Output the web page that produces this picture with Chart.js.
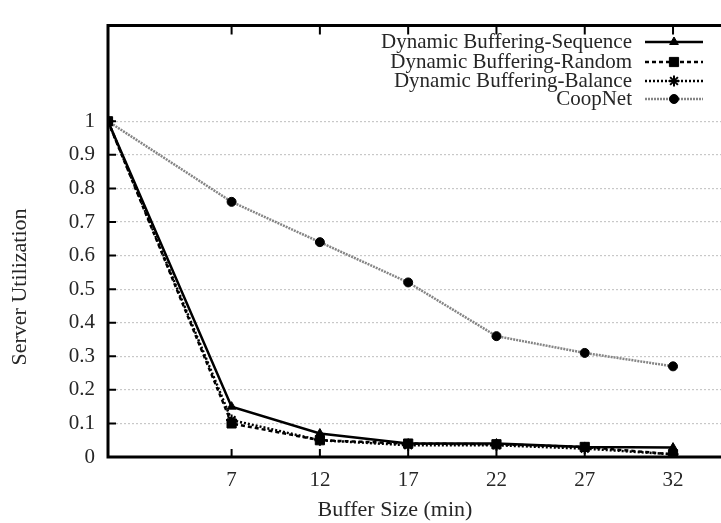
<!DOCTYPE html>
<html><head><meta charset="utf-8">
<script src="https://cdn.jsdelivr.net/npm/chart.js@4"></script>
<style>html,body{margin:0;padding:0;overflow:hidden;background:#fff}#wrap{width:735px;height:523px}</style>
</head><body><div id="wrap"><canvas id="c" width="735" height="523"></canvas></div>
<script>
const bufferSizes = [0, 7, 12, 17, 22, 27, 32];
const xTickValues = [7, 12, 17, 22, 27, 32];
const yTickValues = [0, 0.1, 0.2, 0.3, 0.4, 0.5, 0.6, 0.7, 0.8, 0.9, 1];
const sequenceValues = [1, 0.15, 0.07, 0.04, 0.04, 0.03, 0.028];
const randomValues = [1, 0.10, 0.05, 0.04, 0.038, 0.03, 0.008];
const balanceValues = [1, 0.11, 0.05, 0.035, 0.035, 0.025, 0.008];
const coopNetValues = [1, 0.76, 0.64, 0.52, 0.36, 0.31, 0.27];
const seriesNames = ['Dynamic Buffering-Sequence', 'Dynamic Buffering-Random', 'Dynamic Buffering-Balance', 'CoopNet'];
const xTitle = 'Buffer Size (min)';
const yTitle = 'Server Utilization';

const FONT = '"Liberation Serif", "Times New Roman", serif';
const TEXT = '#262626';

function pts(vals) { return bufferSizes.map((x, i) => ({ x: x, y: vals[i] })); }

const datasets = [
  { label: seriesNames[0], data: pts(sequenceValues), borderColor: '#000', borderWidth: 2.5, borderDash: [], pointStyle: 'triangle', pointRadius: 5, pointBorderWidth: 1 },
  { label: seriesNames[1], data: pts(randomValues), borderColor: '#000', borderWidth: 2.5, borderDash: [4, 3], pointStyle: 'rect', pointRadius: 6.5, pointBorderWidth: 1 },
  { label: seriesNames[2], data: pts(balanceValues), borderColor: '#000', borderWidth: 2.5, borderDash: [2, 2], pointStyle: 'star', pointRadius: 5.5, pointBorderWidth: 2 },
  { label: seriesNames[3], data: pts(coopNetValues), borderColor: '#858585', borderWidth: 2.5, borderDash: [2, 1], pointStyle: 'circle', pointRadius: 4.5, pointBorderWidth: 1 }
];
datasets.forEach(d => { d.tension = 0; d.fill = false; d.backgroundColor = '#000'; d.pointBackgroundColor = '#000'; d.pointBorderColor = '#000'; });

const framePlugin = {
  id: 'frame',
  beforeDatasetsDraw(chart) {
    const { ctx, chartArea: a, scales } = chart;
    ctx.save();
    ctx.strokeStyle = '#000';
    ctx.lineWidth = 3;
    ctx.beginPath();
    ctx.moveTo(a.left, a.top); ctx.lineTo(a.right + 10, a.top);
    ctx.moveTo(a.left, a.top - 1.5); ctx.lineTo(a.left, a.bottom);
    ctx.moveTo(a.left - 1.5, a.bottom); ctx.lineTo(a.right + 10, a.bottom);
    ctx.stroke();
    ctx.lineWidth = 2;
    ctx.beginPath();
    xTickValues.forEach(v => {
      const px = scales.x.getPixelForValue(v);
      ctx.moveTo(px, a.bottom); ctx.lineTo(px, a.bottom - 8);
      ctx.moveTo(px, a.top); ctx.lineTo(px, a.top + 9);
    });
    yTickValues.forEach(v => {
      const py = scales.y.getPixelForValue(v);
      ctx.moveTo(a.left, py); ctx.lineTo(a.left + 8, py);
    });
    ctx.stroke();
    ctx.restore();
  },
  afterDraw(chart) {
    const { ctx } = chart;
    ctx.save();
    ctx.fillStyle = TEXT;
    ctx.font = '22px ' + FONT;
    ctx.textAlign = 'center';
    ctx.textBaseline = 'middle';
    ctx.fillText(xTitle, 395, 510);
    ctx.translate(20, 287);
    ctx.rotate(-Math.PI / 2);
    ctx.fillText(yTitle, 0, 0);
    ctx.restore();

    // legend
    ctx.save();
    chart.data.datasets.forEach((d, i) => {
      const y = [42, 62, 81, 99][i];
      ctx.fillStyle = TEXT;
      ctx.font = '21px ' + FONT;
      ctx.textAlign = 'right';
      ctx.textBaseline = 'middle';
      ctx.fillText(d.label, 632, y);
      ctx.strokeStyle = d.borderColor;
      ctx.lineWidth = d.borderWidth;
      ctx.setLineDash(d.borderDash || []);
      ctx.beginPath();
      ctx.moveTo(645, y); ctx.lineTo(703, y);
      ctx.stroke();
      ctx.setLineDash([]);
      ctx.fillStyle = '#000';
      ctx.strokeStyle = '#000';
      ctx.lineWidth = d.pointBorderWidth;
      Chart.helpers.drawPoint(ctx, { pointStyle: d.pointStyle, radius: d.pointRadius, rotation: 0, borderWidth: d.pointBorderWidth }, 674, y);
    });
    ctx.restore();
  }
};

new Chart(document.getElementById('c'), {
  type: 'line',
  data: { datasets: datasets },
  plugins: [framePlugin],
  options: {
    responsive: false,
    animation: false,
    layout: { padding: { left: 0, top: 18, right: 9, bottom: 0 } },
    plugins: { legend: { display: false }, tooltip: { enabled: false } },
    scales: {
      x: {
        type: 'linear', min: 0, max: 35,
        afterBuildTicks(s) { s.ticks = xTickValues.map(v => ({ value: v })); },
        afterFit(s) { s.height = 66; },
        grid: { display: false, drawTicks: false },
        border: { display: false },
        ticks: { color: TEXT, font: { family: FONT, size: 21 }, padding: 11, maxRotation: 0, autoSkip: false }
      },
      y: {
        type: 'linear', min: 0, max: 1.285,
        afterBuildTicks(s) { s.ticks = yTickValues.map(v => ({ value: v })); },
        afterFit(s) { s.width = 108; },
        grid: {
          drawTicks: false,
          color: ctx => (ctx.tick && ctx.tick.value > 0.001) ? '#c8c8c8' : 'rgba(0,0,0,0)',
          lineWidth: 1.2
        },
        border: { display: false, dash: [2, 2] },
        ticks: {
          color: TEXT, font: { family: FONT, size: 21 }, padding: 13, autoSkip: false,
          callback: v => String(Math.round(v * 10) / 10)
        }
      }
    }
  }
});
</script></body></html>
